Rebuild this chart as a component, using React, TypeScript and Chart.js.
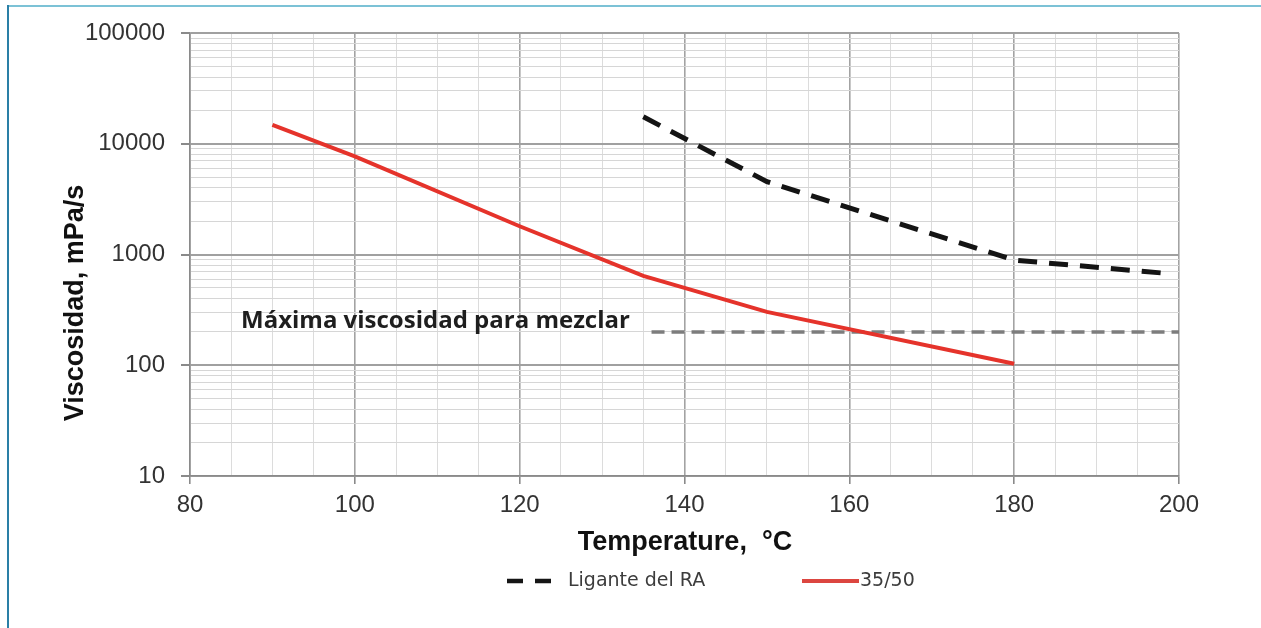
import React, { useEffect, useRef } from 'react';
import { Chart, registerables } from 'chart.js';

Chart.register(...registerables);

// ---- data ----
const tempsBinderRA = [135, 150, 180, 198.5];
const viscBinderRA = [17500, 4550, 890, 675];

const temps3550 = [90, 100, 120, 135, 150, 180];
const visc3550 = [14800, 7700, 1800, 640, 303, 103];

const mixLimitTemps = [136, 200];
const mixLimitVisc = [200, 200];

const xMin = 80;
const xMax = 200;
const xMinorStep = 5;
const xMajorTicks = [80, 100, 120, 140, 160, 180, 200];
const yDecades = [10, 100, 1000, 10000, 100000];
const yMultipliers = [1, 2, 3, 4, 5, 6, 7, 8, 9];

const seriesLabels = ['Ligante del RA', '35/50'];
const xTitle = 'Temperature,  °C';
const yTitle = 'Viscosidad, mPa/s';
const annotationText = 'Máxima viscosidad para mezclar';

const FONT = '"Liberation Sans", Arial, Helvetica, sans-serif';

const toPoints = (xs: number[], ys: number[]) => xs.map((x, i) => ({ x, y: ys[i] }));

const overlayPlugin = {
  id: 'overlay',
  afterDraw(chart: any) {
    const ctx = chart.ctx as CanvasRenderingContext2D;
    const area = chart.chartArea;
    const yScale = chart.scales.y;
    ctx.save();

    // annotation
    ctx.font = 'bold 24px "Open Sans", "Noto Sans", sans-serif';
    ctx.fillStyle = '#1e1e1e';
    ctx.textAlign = 'left';
    ctx.textBaseline = 'alphabetic';
    ctx.fillText(annotationText, area.left + 51, yScale.getPixelForValue(mixLimitVisc[0]) - 4);

    // x axis title
    ctx.font = `bold 27px ${FONT}`;
    ctx.fillStyle = '#111';
    ctx.textAlign = 'center';
    ctx.fillText(xTitle, 685, 550);

    // y axis title
    ctx.save();
    ctx.translate(83, 303);
    ctx.rotate(-Math.PI / 2);
    ctx.fillText(yTitle, 0, 0);
    ctx.restore();

    // legend
    const ly = 581;
    ctx.lineCap = 'butt';
    ctx.strokeStyle = '#151515';
    ctx.lineWidth = 4.5;
    ctx.setLineDash([16, 12]);
    ctx.beginPath();
    ctx.moveTo(507, ly);
    ctx.lineTo(551, ly);
    ctx.stroke();

    ctx.setLineDash([]);
    ctx.strokeStyle = '#dc4640';
    ctx.lineWidth = 4;
    ctx.beginPath();
    ctx.moveTo(802, ly);
    ctx.lineTo(859, ly);
    ctx.stroke();

    ctx.font = `19px "DejaVu Sans", sans-serif`;
    ctx.fillStyle = '#3c3c3c';
    ctx.textAlign = 'left';
    ctx.textBaseline = 'middle';
    ctx.fillText(seriesLabels[0], 568, ly);
    ctx.fillText(seriesLabels[1], 860, ly);

    ctx.restore();
  },
};

export default function App() {
  const canvasRef = useRef<HTMLCanvasElement | null>(null);

  useEffect(() => {
    if (!canvasRef.current) return;
    const chart = new Chart(canvasRef.current, {
      type: 'line',
      data: {
        datasets: [
          {
            label: seriesLabels[0],
            data: toPoints(tempsBinderRA, viscBinderRA),
            borderColor: '#141414',
            borderWidth: 5,
            borderDash: [19, 12],
            pointRadius: 0,
            tension: 0,
            fill: false,
            order: 2,
          },
          {
            label: seriesLabels[1],
            data: toPoints(temps3550, visc3550),
            borderColor: '#e5332b',
            borderWidth: 4,
            pointRadius: 0,
            tension: 0,
            fill: false,
            order: 1,
          },
          {
            label: 'limit',
            data: toPoints(mixLimitTemps, mixLimitVisc),
            borderColor: '#7d7d7d',
            borderWidth: 3.5,
            borderDash: [13, 7],
            pointRadius: 0,
            tension: 0,
            fill: false,
            order: 3,
          },
        ],
      },
      options: {
        animation: false,
        responsive: false,
        devicePixelRatio: 1,
        layout: { padding: { left: 0, right: 82, top: 33, bottom: 0 } },
        plugins: {
          legend: { display: false },
          tooltip: { enabled: false },
        },
        scales: {
          x: {
            type: 'linear',
            min: xMin,
            max: xMax,
            afterBuildTicks: (scale: any) => {
              const t = [];
              for (let v = xMin; v <= xMax; v += xMinorStep) t.push({ value: v });
              scale.ticks = t;
            },
            afterFit: (scale: any) => {
              scale.height = 152;
            },
            ticks: {
              autoSkip: false,
              maxRotation: 0,
              padding: 7,
              color: '#333',
              font: { family: FONT, size: 24 },
              callback: (v: any) => (xMajorTicks.includes(Number(v)) ? String(v) : ''),
            },
            grid: {
              color: (c: any) => (c.tick && xMajorTicks.includes(c.tick.value) ? '#a3a3a3' : '#dcdcdc'),
              lineWidth: (c: any) => (c.tick && xMajorTicks.includes(c.tick.value) ? 1.6 : 1),
              tickColor: (c: any) => (c.tick && xMajorTicks.includes(c.tick.value) ? '#8a8a8a' : 'rgba(0,0,0,0)'),
              tickLength: 8,
            },
            border: { display: true, color: '#8a8a8a', width: 1.6 },
          },
          y: {
            type: 'logarithmic',
            min: yDecades[0],
            max: yDecades[yDecades.length - 1],
            afterBuildTicks: (scale: any) => {
              const t: any[] = [];
              yDecades.forEach((d, i) => {
                if (i === yDecades.length - 1) {
                  t.push({ value: d });
                } else {
                  yMultipliers.forEach((m) => t.push({ value: d * m }));
                }
              });
              scale.ticks = t;
            },
            afterFit: (scale: any) => {
              scale.width = 190;
            },
            ticks: {
              autoSkip: false,
              padding: 16,
              color: '#333',
              font: { family: FONT, size: 24 },
              callback: (v: any) => (yDecades.includes(Number(v)) ? String(v) : ''),
            },
            grid: {
              color: (c: any) => (c.tick && yDecades.includes(c.tick.value) ? '#a0a0a0' : '#d6d6d6'),
              lineWidth: (c: any) => (c.tick && yDecades.includes(c.tick.value) ? 2 : 1),
              tickColor: (c: any) => (c.tick && yDecades.includes(c.tick.value) ? '#8a8a8a' : 'rgba(0,0,0,0)'),
              tickLength: 9,
            },
            border: { display: true, color: '#8a8a8a', width: 1.6 },
          },
        },
      },
      plugins: [overlayPlugin],
    });
    return () => chart.destroy();
  }, []);

  return (
    <div style={{ position: 'fixed', left: 0, top: 0, width: 1261, height: 628, background: '#fff' }}>
      <canvas ref={canvasRef} width={1261} height={628} style={{ display: 'block', width: 1261, height: 628 }} />
      <div style={{ position: 'absolute', left: 7, right: 0, top: 5, height: 2, background: '#7cc2d6' }} />
      <div style={{ position: 'absolute', left: 7, top: 5, bottom: 0, width: 1.5, background: '#2a7fa6' }} />
    </div>
  );
}
